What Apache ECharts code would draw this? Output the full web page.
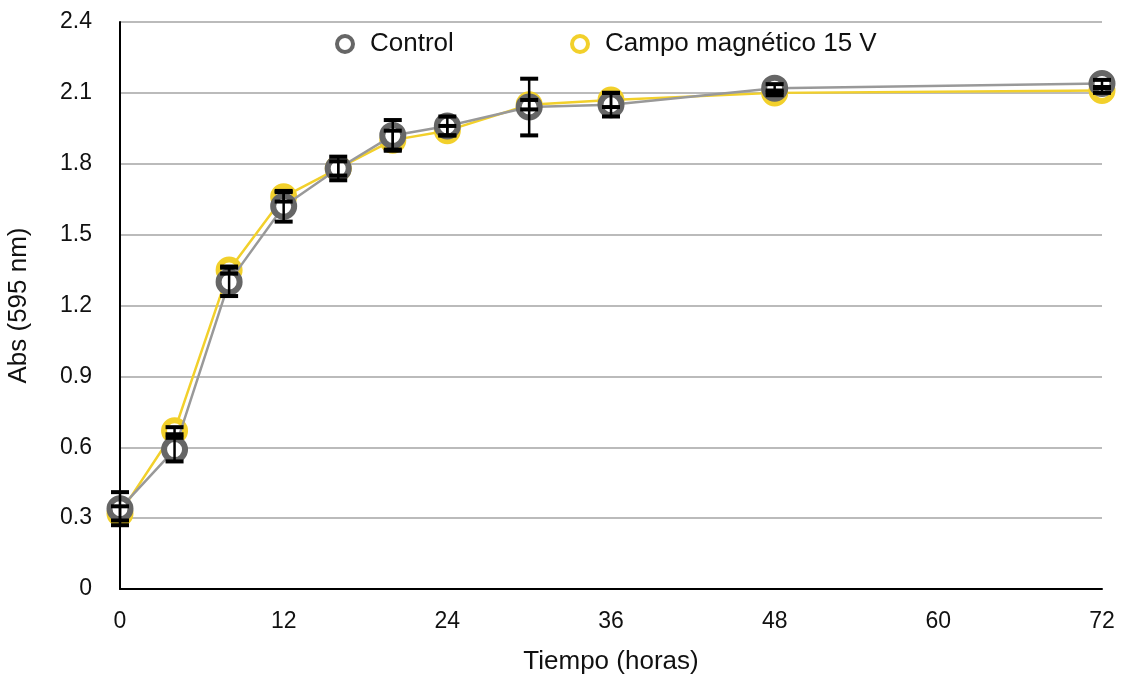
<!DOCTYPE html>
<html>
<head>
<meta charset="utf-8">
<script src="https://cdn.jsdelivr.net/npm/echarts@6/dist/echarts.min.js"></script>
<style>
  html, body { margin: 0; padding: 0; background: #fff; }
  #chart { width: 1124px; height: 682px; }
</style>
</head>
<body>
<div id="chart"></div>
<script>
const hours = [0, 4, 8, 12, 16, 20, 24, 30, 36, 48, 72];
const controlMean = [0.34, 0.59, 1.30, 1.62, 1.78, 1.92, 1.96, 2.04, 2.05, 2.12, 2.14];
const controlErr = [0.07, 0.05, 0.06, 0.065, 0.05, 0.065, 0.04, 0.12, 0.05, 0.017, 0.015];
const campoMean = [0.32, 0.67, 1.35, 1.66, 1.78, 1.90, 1.94, 2.05, 2.07, 2.10, 2.11];
const campoErr = [0.03, 0.015, 0.015, 0.02, 0.03, 0.04, 0.02, 0.02, 0.03, 0.01, 0.01];

const FONT = '"Liberation Sans", Arial, sans-serif';
const chart = echarts.init(document.getElementById('chart'));

function errData(means, errs) {
    return hours.map((h, i) => [h, means[i] - errs[i], means[i] + errs[i]]);
}

function renderErr(params, api) {
    const x = api.value(0);
    const lo = api.coord([x, api.value(1)]);
    const hi = api.coord([x, api.value(2)]);
    const w = 9;
    const cap = { stroke: '#000', lineWidth: 4 };
    return {
        type: 'group',
        children: [
            { type: 'line', shape: { x1: lo[0], y1: lo[1], x2: hi[0], y2: hi[1] }, style: { stroke: '#000', lineWidth: 2.5 } },
            { type: 'line', shape: { x1: lo[0] - w, y1: lo[1], x2: lo[0] + w, y2: lo[1] }, style: cap },
            { type: 'line', shape: { x1: hi[0] - w, y1: hi[1], x2: hi[0] + w, y2: hi[1] }, style: cap }
        ]
    };
}

const legendCommon = {
    top: 26, itemWidth: 20, itemHeight: 16, itemGap: 14,
    textStyle: { fontFamily: FONT, fontSize: 26, color: '#111', padding: [0, 0, 0, 10] }
};

chart.setOption({
    animation: false,
    grid: { left: 120, right: 22, top: 22, bottom: 93, outerBoundsMode: 'none' },
    legend: [
        Object.assign({ left: 330, data: [{ name: 'Control', icon: 'circle', itemStyle: { color: '#fff', borderColor: '#666', borderWidth: 4 } }] }, legendCommon),
        Object.assign({ left: 565, data: [{ name: 'Campo magnético 15 V', icon: 'circle', itemStyle: { color: '#fff', borderColor: '#f2d02b', borderWidth: 4 } }] }, legendCommon)
    ],
    xAxis: {
        type: 'value', min: 0, max: 72, interval: 12,
        name: 'Tiempo (horas)', nameLocation: 'middle', nameGap: 60,
        nameTextStyle: { fontFamily: FONT, fontSize: 26, color: '#111' },
        axisLine: { lineStyle: { color: '#000', width: 2 } },
        axisTick: { show: false },
        axisLabel: { fontFamily: FONT, fontSize: 23, color: '#111', margin: 21 },
        splitLine: { show: false }
    },
    yAxis: {
        type: 'value', min: 0, max: 2.4, interval: 0.3,
        name: 'Abs (595 nm)', nameLocation: 'middle', nameGap: 88,
        nameTextStyle: { fontFamily: FONT, fontSize: 26, color: '#111' },
        axisLine: { show: true, lineStyle: { color: '#000', width: 2 } },
        axisTick: { show: false },
        axisLabel: { fontFamily: FONT, fontSize: 23, color: '#111', margin: 28,
            formatter: v => v === 0 ? '0' : v.toFixed(1) },
        splitLine: { lineStyle: { color: '#bbb', width: 2 } }
    },
    series: [
        {
            name: 'Campo magnético 15 V', type: 'line',
            data: hours.map((h, i) => [h, campoMean[i]]),
            symbol: 'circle', symbolSize: 21,
            lineStyle: { color: '#f2d02b', width: 2.5 },
            itemStyle: { color: '#fff', borderColor: '#f2d02b', borderWidth: 6 },
            z: 2
        },
        {
            name: 'Control', type: 'line',
            data: hours.map((h, i) => [h, controlMean[i]]),
            symbol: 'circle', symbolSize: 21,
            lineStyle: { color: '#999', width: 2.5 },
            itemStyle: { color: '#fff', borderColor: '#666', borderWidth: 6 },
            z: 3
        },
        {
            type: 'custom', renderItem: renderErr,
            data: errData(campoMean, campoErr), z: 4, silent: true
        },
        {
            type: 'custom', renderItem: renderErr,
            data: errData(controlMean, controlErr), z: 5, silent: true
        }
    ]
});

window.onresize = () => chart.resize();
</script>
</body>
</html>
